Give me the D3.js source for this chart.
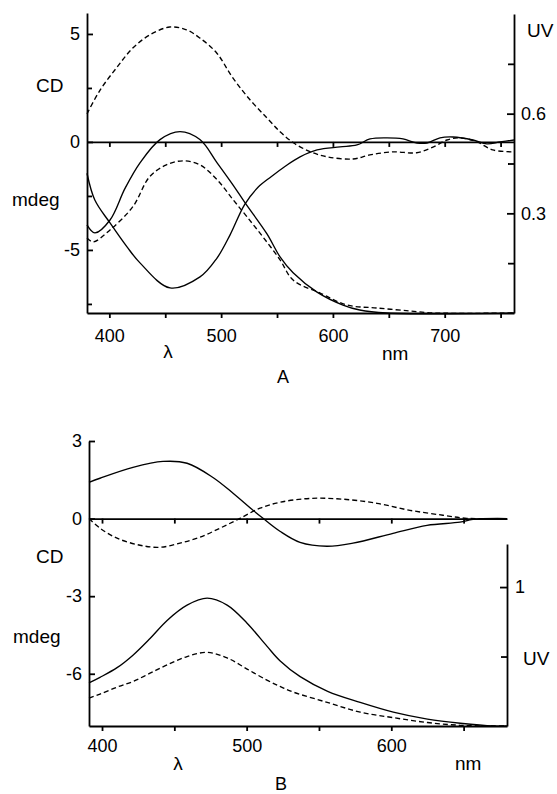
<!DOCTYPE html>
<html>
<head>
<meta charset="utf-8">
<script src="https://cdn.jsdelivr.net/npm/d3@7"></script>
<style>
  body { margin: 0; background: #fff; }
  svg { display: block; font-family: "Liberation Sans", Arial, Helvetica, sans-serif; }
  .curve { fill: none; stroke: #000; stroke-width: 1.35; }
  .dash { stroke-dasharray: 5, 3; }
  .axis path, .axis line { stroke: #000; stroke-width: 1.8; }
  .axis text { font-size: 18px; fill: #000; }
  .label { font-size: 19px; fill: #000; }
</style>
</head>
<body>
<svg id="chart" width="557" height="794"></svg>
<script>
// ---- panel A data (wavelength nm, CD mdeg / UV absorbance) ----
const aCdSolidNm = [380, 387, 400.6, 415.8, 427.4, 454.3, 481.1, 496, 508, 521, 533, 545, 558, 570.6, 585.8, 606.3, 621.5, 633.2, 648.4, 662.7, 675.2, 684.2, 695.8, 707.4, 725.3, 737.8, 749.5, 762];
const aCdSolid   = [-1.45, -2.69, -3.75, -4.86, -5.6, -6.76, -6.25, -5.4, -4.3, -2.9, -2.1, -1.6, -1.1, -0.69, -0.37, -0.23, -0.14, 0.14, 0.19, 0.14, -0.05, -0.05, 0.19, 0.23, 0.09, -0.09, 0, 0.09];

const aCdDashNm = [380, 391.7, 407, 421, 436, 454, 469, 481, 496, 510, 526, 541, 553, 565, 580, 595, 618, 633, 654, 675, 690, 702, 714, 729, 743, 762];
const aCdDash   = [1.3, 2.4, 3.47, 4.35, 4.95, 5.32, 5.19, 4.81, 4.12, 3.0, 1.94, 1.11, 0.46, -0.05, -0.46, -0.69, -0.79, -0.6, -0.46, -0.5, -0.23, 0.09, 0.19, 0, -0.37, -0.46];

const aUvSolidNm = [380, 387, 400.6, 414, 427.4, 445.3, 463.2, 481, 496.4, 510.7, 521.3, 541, 552.7, 564.4, 585.8, 609, 624, 648, 762];
const aUvSolid   = [0.265, 0.241, 0.28, 0.375, 0.452, 0.522, 0.546, 0.522, 0.452, 0.385, 0.332, 0.238, 0.169, 0.121, 0.063, 0.024, 0.009, 0, 0];

const aUvDashNm = [380, 385.4, 400.6, 421, 436, 451, 466, 481, 496.4, 510.7, 523, 537.4, 552.7, 564.4, 588.6, 612.7, 639.6, 669, 690, 762];
const aUvDash   = [0.226, 0.214, 0.25, 0.32, 0.41, 0.446, 0.458, 0.446, 0.401, 0.341, 0.29, 0.229, 0.16, 0.099, 0.06, 0.024, 0.015, 0.006, 0, 0];

// ---- panel B data ----
const bCdSolidNm = [391, 398.6, 421.4, 442.2, 458.8, 476.7, 490.6, 504.4, 511.3, 523, 536.9, 555.5, 573.5, 601.2, 624.7, 647.5, 656.5, 680];
const bCdSolid   = [1.4, 1.56, 1.98, 2.21, 2.14, 1.59, 0.98, 0.32, 0.01, -0.49, -0.92, -1.07, -0.95, -0.57, -0.26, -0.14, -0.03, 0];

const bCdDashNm = [391, 398.6, 410.4, 426.3, 440.1, 453.9, 467.7, 481.6, 495.4, 509.2, 523, 543.8, 566.6, 590.1, 612.9, 635.7, 652.3, 670.3, 680];
const bCdDash   = [0, -0.37, -0.76, -1.03, -1.11, -0.95, -0.72, -0.37, 0.01, 0.4, 0.63, 0.78, 0.75, 0.59, 0.32, 0.13, 0.01, 0, 0];

const bUvSolidNm = [391, 398.6, 410.4, 421.4, 433.2, 445, 458.8, 472.7, 486.5, 500.3, 514, 523, 537, 556, 578.5, 601.4, 625, 647.7, 670.6, 680];
const bUvSolid   = [0.31, 0.35, 0.42, 0.51, 0.63, 0.76, 0.87, 0.92, 0.87, 0.74, 0.575, 0.47, 0.355, 0.25, 0.17, 0.1, 0.05, 0.02, 0, 0];

const bUvDashNm = [391, 398.6, 410.4, 421.4, 433.2, 445, 458.8, 472.7, 486.5, 500.3, 514, 523, 532, 555.7, 578.5, 601.4, 625, 647.7, 670, 680];
const bUvDash   = [0.2, 0.23, 0.28, 0.32, 0.38, 0.44, 0.5, 0.53, 0.49, 0.41, 0.33, 0.285, 0.245, 0.17, 0.1, 0.06, 0.025, 0.005, 0, 0];

// ---- ticks ----
const aXTicks = [400, 450, 500, 550, 600, 650, 700, 750];
const aXLabels = [400, 500, 600, 700];
const aCdTicks = [5, 0, -5];
const aCdMinor = [2.5, -2.5, -7.5];
const aUvTicks = [0.3, 0.6];
const aUvMinor = [0.15, 0.45, 0.75];

const bXTicks = [400, 450, 500, 550, 600, 650];
const bXLabels = [400, 500, 600];
const bCdTicks = [3, 0, -3, -6];
const bUvTicks = [1];
const bUvMinor = [0.5];

const svg = d3.select('#chart');
svg.append('rect').attr('width', 557).attr('height', 794).attr('fill', '#fff');

function zip(xs, ys) { return xs.map((v, i) => [v, ys[i]]); }

function drawPanel(p) {
  const g = svg.append('g');
  const x = p.x, yCd = p.yCd, yUv = p.yUv;
  const [x0, x1] = x.range();
  const [yb, yt] = yCd.range();

  const lineCd = d3.line().x(d => x(d[0])).y(d => yCd(d[1])).curve(d3.curveCatmullRom);
  const lineUv = d3.line().x(d => x(d[0])).y(d => yUv(d[1])).curve(d3.curveCatmullRom);

  g.append('path').attr('class', 'curve').attr('d', lineCd(p.cdSolid));
  g.append('path').attr('class', 'curve dash').attr('d', lineCd(p.cdDash));
  g.append('path').attr('class', 'curve').attr('d', lineUv(p.uvSolid));
  g.append('path').attr('class', 'curve dash').attr('d', lineUv(p.uvDash));

  // zero line with ticks
  g.append('g').attr('class', 'axis')
    .attr('transform', `translate(0,${yCd(0)})`)
    .call(d3.axisBottom(x).tickValues(p.xTicks).tickSize(5).tickSizeOuter(0).tickFormat(''));

  // bottom axis
  g.append('g').attr('class', 'axis')
    .attr('transform', `translate(0,${yb})`)
    .call(d3.axisBottom(x).tickValues(p.xTicks).tickSize(5).tickSizeOuter(0).tickPadding(p.xPad)
      .tickFormat(d => p.xLabels.includes(d) ? d : ''));

  // left CD axis
  g.append('g').attr('class', 'axis')
    .attr('transform', `translate(${x0},0)`)
    .call(d3.axisLeft(yCd).tickValues(p.cdTicks).tickSize(-6).tickSizeOuter(0).tickPadding(7)
      .tickFormat(d => d < 0 ? '-' + Math.abs(d) : d));
  if (p.cdMinor) {
    g.append('g').attr('class', 'axis')
      .attr('transform', `translate(${x0},0)`)
      .call(d3.axisLeft(yCd).tickValues(p.cdMinor).tickSize(-5).tickSizeOuter(0).tickFormat(''))
      .select('.domain').remove();
  }

  // right UV axis
  g.append('g').attr('class', 'axis')
    .attr('transform', `translate(${x1},0)`)
    .call(d3.axisRight(yUv).tickValues(p.uvTicks).tickSize(-7).tickSizeOuter(0).tickPadding(p.uvPad)
      .tickFormat(d3.format('~g')));
  g.append('g').attr('class', 'axis')
    .attr('transform', `translate(${x1},0)`)
    .call(d3.axisRight(yUv).tickValues(p.uvMinor).tickSize(-6).tickSizeOuter(0).tickFormat(''))
    .select('.domain').remove();

  // labels
  p.labels.forEach(l => {
    g.append('text').attr('class', 'label')
      .attr('x', l[1]).attr('y', l[2])
      .attr('text-anchor', l[3] || 'start')
      .style('font-size', (l[4] || 19) + 'px')
      .text(l[0]);
  });
}

drawPanel({
  x: d3.scaleLinear().domain([380, 762]).range([87, 514]),
  yCd: d3.scaleLinear().domain([-7.92, 5.97]).range([313, 13]),
  yUv: d3.scaleLinear().domain([0, 0.9]).range([313, 14]),
  cdSolid: zip(aCdSolidNm, aCdSolid),
  cdDash: zip(aCdDashNm, aCdDash),
  uvSolid: zip(aUvSolidNm, aUvSolid),
  uvDash: zip(aUvDashNm, aUvDash),
  xTicks: aXTicks, xLabels: aXLabels, xPad: 11,
  cdTicks: aCdTicks, cdMinor: aCdMinor,
  uvTicks: aUvTicks, uvMinor: aUvMinor, uvPad: 7,
  labels: [['CD', 36, 92], ['mdeg', 12, 206], ['UV', 527, 37], ['λ', 168, 358, 'middle'],
           ['nm', 382, 360], ['A', 283, 383, 'middle', 18]]
});

drawPanel({
  x: d3.scaleLinear().domain([391, 680]).range([89, 507]),
  yCd: d3.scaleLinear().domain([-8.02, 3]).range([726, 441]),
  yUv: d3.scaleLinear().domain([0, 1.31]).range([726, 544]),
  cdSolid: zip(bCdSolidNm, bCdSolid),
  cdDash: zip(bCdDashNm, bCdDash),
  uvSolid: zip(bUvSolidNm, bUvSolid),
  uvDash: zip(bUvDashNm, bUvDash),
  xTicks: bXTicks, xLabels: bXLabels, xPad: 8,
  cdTicks: bCdTicks,
  uvTicks: bUvTicks, uvMinor: bUvMinor, uvPad: 8,
  labels: [['CD', 36, 563], ['mdeg', 13, 643], ['UV', 523, 665], ['λ', 178, 770, 'middle'],
           ['nm', 455, 770], ['B', 281, 790, 'middle', 18]]
});
</script>
</body>
</html>
